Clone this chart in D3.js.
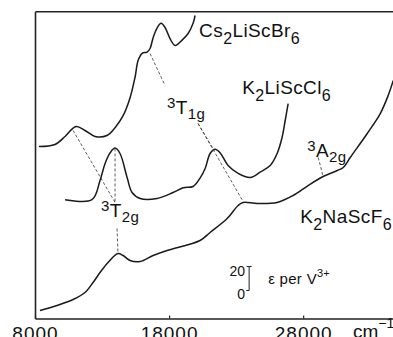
<!DOCTYPE html>
<html>
<head>
<meta charset="utf-8">
<script src="https://cdn.jsdelivr.net/npm/d3@7/dist/d3.min.js"></script>
<style>
body{margin:0;background:#fff;}
svg{display:block;font-family:"Liberation Sans",Arial,sans-serif;}
</style>
</head>
<body>
<div id="grafico"></div>
<script>
//Valores (cm-1 y epsilon por V3+)
var ticksX = [8000, 18000, 28000];

//K2NaScF6 (sin desplazamiento)
var wnF = [8370, 9640, 10840, 11730, 12330, 12850, 13450, 14190, 14570, 15090, 15840, 16810, 17850, 20310, 21060, 22330, 23150, 23520, 24570, 26060, 27250, 28370, 29490, 30540, 30990, 31510, 32780, 33750, 34340, 34720];
var epsF = [6.7, 10.8, 15.8, 21.7, 30, 38.3, 46.7, 54.2, 52.5, 48.3, 47.5, 52.5, 56.7, 65, 71.7, 83.3, 94.2, 96.7, 95.8, 96.7, 102.5, 110.8, 118.3, 123.3, 125.8, 134.2, 154.2, 170.8, 185.8, 198.3];

//K2LiScCl6
var wnCl = [10240, 12250, 12850, 13220, 13600, 13970, 14340, 14870, 15240, 15840, 17100, 18300, 19050, 19790, 20310, 20690, 21060, 21430, 21810, 22400, 23150, 24050, 24790, 25540, 26060, 26430, 26660, 26880];
var epsCl = [4, 4, 20, 34, 43, 47, 42.5, 22.5, 10, 5, 5, 10, 14, 15, 22, 30, 42.5, 46, 43, 32.5, 26, 22.5, 27, 32.5, 42.5, 56, 70, 84];

//Cs2LiScBr6
var wnBr = [8300, 9490, 10240, 11060, 11730, 12480, 13370, 13970, 14570, 15090, 15460, 15690, 15990, 16360, 16580, 16810, 17100, 17400, 17700, 18080, 18450, 18970, 19420, 19790, 19940];
var epsBr = [3.3, 5, 11.7, 20, 16.7, 11.7, 12.5, 19, 29, 44, 61, 75, 81, 82, 85, 94, 102, 106, 102.5, 93, 87.5, 92, 97.5, 106, 112.5];

//desplazamiento vertical de cada espectro
var offsets = [0, 95, 140];

//lineas de union (wn1, y1, wn2, y2), y ya desplazada
var tieLines = [
    [10840, 156.7, 13970, 96.7],
    [13970, 141.7, 13970, 96.7],
    [14120, 75, 14190, 54.2],
    [16580, 220.8, 17700, 194.2],
    [20160, 162.5, 21360, 140],
    [20160, 162.5, 23520, 97.5],
    [29120, 134.2, 29490, 118.3]
];

//barra de escala
var escalaWn = 23970;
var escalaBase = 23.3;
var escalaLargo = 20;

var ancho = 393, alto = 337;

var svg = d3.select("#grafico").append("svg")
        .attr("width", ancho)
        .attr("height", alto);

var x = d3.scaleLinear().domain([8000, 34700]).range([35, 393]);
var y = d3.scaleLinear().domain([0, 256]).range([318.5, 11.3]);

//ejes
var ejeX = svg.append("g")
        .attr("transform", "translate(0," + y(0) + ")")
        .call(d3.axisBottom(x).tickValues(ticksX).tickSizeInner(-3).tickSizeOuter(0).tickPadding(8.5).tickFormat(d3.format("d")));
ejeX.select(".domain").attr("stroke", "#222").attr("stroke-width", 1.6);
ejeX.selectAll(".tick line").attr("stroke", "#222").attr("stroke-width", 1.2);
ejeX.selectAll(".tick text")
        .attr("font-family", "Liberation Sans, Arial, sans-serif")
        .attr("font-size", 19)
        .attr("letter-spacing", 1)
        .attr("fill", "#111");

var ejeY = svg.append("g")
        .attr("transform", "translate(" + x(8000) + ",0)")
        .call(d3.axisLeft(y).tickValues([]).tickSizeOuter(0));
ejeY.select(".domain").attr("stroke", "#222").attr("stroke-width", 1.6);

var ejeTop = svg.append("g")
        .attr("transform", "translate(0," + y(256) + ")")
        .call(d3.axisTop(x).tickValues([]).tickSizeOuter(0));
ejeTop.select(".domain").attr("stroke", "#222").attr("stroke-width", 1.6);

//espectros
var linea = d3.line()
        .x(function(d) { return x(d[0]); })
        .y(function(d) { return y(d[1]); })
        .curve(d3.curveCatmullRom.alpha(0.5));

var series = [[wnF, epsF], [wnCl, epsCl], [wnBr, epsBr]];
series.forEach(function(s, i) {
    var pts = s[0].map(function(w, j) { return [w, s[1][j] + offsets[i]]; });
    svg.append("path")
        .attr("d", linea(pts))
        .attr("fill", "none")
        .attr("stroke", "#1a1a1a")
        .attr("stroke-width", 1.5)
        .attr("stroke-linejoin", "round");
});

//lineas discontinuas
svg.append("g").selectAll("line")
        .data(tieLines)
        .enter().append("line")
        .attr("x1", function(d) { return x(d[0]); })
        .attr("y1", function(d) { return y(d[1]); })
        .attr("x2", function(d) { return x(d[2]); })
        .attr("y2", function(d) { return y(d[3]); })
        .attr("stroke", "#333")
        .attr("stroke-width", 0.8)
        .attr("stroke-dasharray", "3,2");

//texto con sub y superindices
function formula(px, py, partes, size, subSize, subDy, supDy) {
    var t = svg.append("text")
            .attr("x", px).attr("y", py)
            .attr("font-size", size)
            .attr("fill", "#111")
            .attr("letter-spacing", 0.4);
    var actual = 0;
    partes.forEach(function(p) {
        var obj = 0;
        var fs = size;
        if (p[1] == "sub") { obj = subDy; fs = subSize; }
        if (p[1] == "sup") { obj = -supDy; fs = subSize; }
        t.append("tspan")
            .attr("dy", obj - actual)
            .attr("font-size", fs)
            .text(p[0]);
        actual = obj;
    });
}

formula(x(20240), y(234.2), [["Cs",""],["2","sub"],["LiScBr",""],["6","sub"]], 19, 16, 7, 6);
formula(x(23450), y(186.7), [["K",""],["2","sub"],["LiScCl",""],["6","sub"]], 19, 16, 7, 6);
formula(x(27780), y(80), [["K",""],["2","sub"],["NaScF",""],["6","sub"]], 19, 16, 7, 6);
formula(x(17850), y(170.8), [["3","sup"],["T",""],["1g","sub"]], 19, 15, 5, 6);
formula(x(28300), y(134.2), [["3","sup"],["A",""],["2g","sub"]], 19, 15, 5, 6);
formula(x(12920), y(84.2), [["3","sup"],["T",""],["2g","sub"]], 19, 15, 5, 6);

//barra de escala 20 unidades
var bx = x(escalaWn);
var b0 = y(escalaBase), b1 = y(escalaBase + escalaLargo);
var barra = svg.append("g").attr("stroke", "#222").attr("stroke-width", 1);
barra.append("line").attr("x1", bx).attr("x2", bx).attr("y1", b0).attr("y2", b1);
barra.append("line").attr("x1", bx - 2.5).attr("x2", bx + 2.5).attr("y1", b1).attr("y2", b1);
barra.append("line").attr("x1", bx - 3).attr("x2", bx).attr("y1", b0).attr("y2", b0);
svg.append("text").attr("x", bx - 4).attr("y", b1 + 9).attr("text-anchor", "end")
        .attr("font-size", 14).attr("fill", "#111").text("20");
svg.append("text").attr("x", bx - 4).attr("y", b0 + 8).attr("text-anchor", "end")
        .attr("font-size", 14).attr("fill", "#111").text("0");
var eps = svg.append("text").attr("x", bx + 19).attr("y", b0 - 7)
        .attr("font-size", 15).attr("fill", "#111").attr("letter-spacing", 0.3);
eps.append("tspan").text("ε  per V");
eps.append("tspan").attr("dy", -7).attr("font-size", 11).text("3+");

//unidades
var cm = svg.append("text").attr("x", 353).attr("y", 337.5)
        .attr("font-size", 19).attr("fill", "#111");
cm.append("tspan").text("cm");
cm.append("tspan").attr("dy", -10).attr("font-size", 14).text("−1");
</script>
</body>
</html>
